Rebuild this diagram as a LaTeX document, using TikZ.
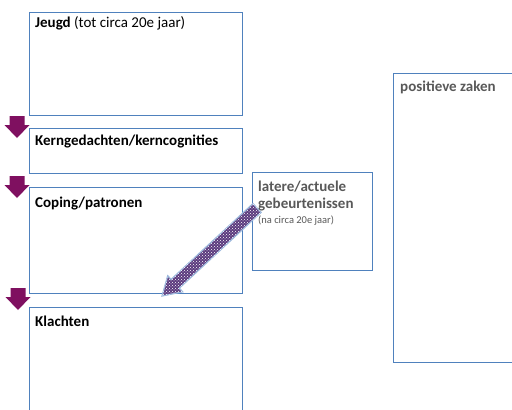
\documentclass[tikz,border=0pt]{standalone}
\usepackage{fontspec}
\setmainfont{Carlito}
\usetikzlibrary{calc,patterns}
\definecolor{boxblue}{HTML}{4F81BD}
\definecolor{plum}{HTML}{7F1060}
\definecolor{violetfill}{HTML}{5B3A7E}
\definecolor{lightedge}{HTML}{9DB9DD}
\definecolor{greytext}{HTML}{595959}
\begin{document}
\begin{tikzpicture}[x=1pt,y=-1pt,
  box/.style={draw=boxblue, line width=0.9pt, fill=white, anchor=north west, inner sep=0pt},
  lbl/.style={anchor=base west, inner sep=0pt, font=\fontsize{15}{18}\selectfont},
  smalllbl/.style={anchor=base west, inner sep=0pt, font=\fontsize{10.5}{12}\selectfont, text=greytext},
  downarrow/.style={fill=plum, draw=none},
  diagarrow/.style={fill=violetfill, draw=lightedge, line width=1.2pt, line join=miter}
]
\useasboundingbox (0,0) rectangle (512,410);
\clip (0,0) rectangle (512,410);

% boxes
\node[box, minimum width=213pt, minimum height=103pt] (jeugd) at (29,12) {};
\node[box, minimum width=213pt, minimum height=45pt] (kern) at (29,128) {};
\node[box, minimum width=213pt, minimum height=106pt] (coping) at (29,187) {};
\node[box, minimum width=213pt, minimum height=120pt] (klachten) at (29,307) {};
\node[box, minimum width=120pt, minimum height=98pt] (latere) at (252,172) {};
\node[box, minimum width=140pt, minimum height=289pt] (positief) at (393,73) {};

% labels
\node[lbl] (tjeugd) at (35,27) {\textbf{Jeugd} (tot circa 20e jaar)};
\node[lbl] (tkern) at (35,145) {\textbf{Kerngedachten/kerncognities}};
\node[lbl] (tcoping) at (35,207) {\textbf{Coping/patronen}};
\node[lbl] (tklachten) at (35,326) {\textbf{Klachten}};
\node[lbl, text=greytext] (tlatere1) at (258,191) {\textbf{latere/actuele}};
\node[lbl, text=greytext] (tlatere2) at (258,208) {\textbf{gebeurtenissen}};
\node[smalllbl] (tlatere3) at (258,223) {(na circa 20e jaar)};
\node[lbl, text=greytext] (tpos) at (400,91) {\textbf{positieve zaken}};

% down block arrows
\coordinate (a1) at (17,116);
\coordinate (a2) at (17,176);
\coordinate (a3) at (18,288);
\foreach \a in {a1,a2,a3}{
  \fill[downarrow] (\a) ++(-7.5,0) -- ++(15,0) -- ++(0,9) -- ++(5,0) -- ++(-12.5,13) -- ++(-12.5,-13) -- ++(5,0) -- cycle;
}

% diagonal striped arrow
\coordinate (T) at (257,208);
\coordinate (P) at (162,296);
\coordinate (B) at ($(P)!18pt!(T)$);
\path[diagarrow] ($(T)!6pt!90:(P)$) -- ($(B)!6pt!-90:(T)$) -- ($(B)!11pt!-90:(T)$) -- (P)
  -- ($(B)!11pt!90:(T)$) -- ($(B)!6pt!90:(T)$) -- ($(T)!6pt!-90:(P)$) -- cycle;
\fill[pattern=crosshatch dots, pattern color=white] ($(T)!6pt!90:(P)$) -- ($(B)!6pt!-90:(T)$) -- ($(B)!11pt!-90:(T)$) -- (P)
  -- ($(B)!11pt!90:(T)$) -- ($(B)!6pt!90:(T)$) -- ($(T)!6pt!-90:(P)$) -- cycle;
\end{tikzpicture}
\end{document}
